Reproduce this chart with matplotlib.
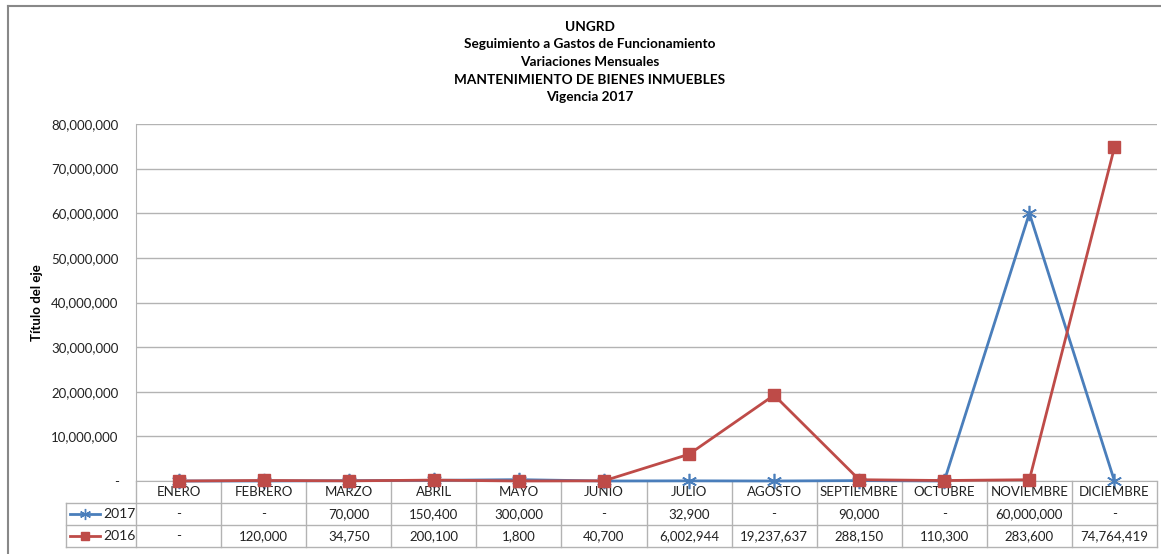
import matplotlib
matplotlib.use('Agg')
import matplotlib.pyplot as plt
from matplotlib.lines import Line2D
from matplotlib.ticker import FuncFormatter

plt.rcParams.update({'font.family': ['Lato', 'DejaVu Sans'], 'font.size': 9.5})

MESES = ['ENERO', 'FEBRERO', 'MARZO', 'ABRIL', 'MAYO', 'JUNIO', 'JULIO',
         'AGOSTO', 'SEPTIEMBRE', 'OCTUBRE', 'NOVIEMBRE', 'DICIEMBRE']
v2017 = [0, 0, 70000, 150400, 300000, 0, 32900, 0, 90000, 0, 60000000, 0]
v2016 = [0, 120000, 34750, 200100, 1800, 40700, 6002944, 19237637,
         288150, 110300, 283600, 74764419]
TITULO = ['UNGRD', 'Seguimiento a Gastos de Funcionamiento', 'Variaciones Mensuales',
          'MANTENIMIENTO DE BIENES INMUEBLES', 'Vigencia 2017']

AZUL = '#4A7EBB'
ROJO = '#BE4B48'
GRIS = '#B3B3B3'

W, H = 1161, 554
fig = plt.figure(figsize=(W / 100, H / 100), dpi=100)

# plot area in pixels: x 136..1157, y 124..481
x0, x1, ytop, ybot = 136, 1157, 124, 481
ax = fig.add_axes([x0 / W, 1 - ybot / H, (x1 - x0) / W, (ybot - ytop) / H])

def fmt(v, pos=None):
    return '-' if v == 0 else f'{v:,.0f}'

x = range(len(MESES))
ax.plot(x, v2017, color=AZUL, lw=2.0, marker=(6, 2, 0), ms=11, mew=1.2,
        mec=AZUL, zorder=3, clip_on=False)
ax.plot(x, v2016, color=ROJO, lw=2.0, marker='s', ms=8, mec=ROJO, mfc=ROJO,
        zorder=4, clip_on=False)

ax.set_xlim(-0.5, len(MESES) - 0.5)
ax.set_ylim(0, 80000000)
ax.set_yticks(range(0, 80000001, 10000000))
ax.yaxis.set_major_formatter(FuncFormatter(fmt))
ax.yaxis.grid(True, color=GRIS, lw=1.0)
ax.set_axisbelow(True)
ax.tick_params(axis='y', length=0, pad=12.5, labelsize=9.5, colors='#222222')
ax.set_xticks([])
for s in ['top', 'right']:
    ax.spines[s].set_visible(False)
ax.spines['left'].set_color(GRIS)
ax.spines['bottom'].set_color(GRIS)
ax.set_ylabel('Título del eje', fontweight='bold', fontsize=9.5, labelpad=6)

# data table under the plot area
tr = ax.get_xaxis_transform()
def py(p):
    # pixel row -> axes fraction
    return (ybot - p) / (ybot - ytop)

rows = [503, 525, 547]
unit = (x1 - x0) / 12
leg_left = -0.5 - (x0 - 66) / unit
for r in rows:
    ax.add_line(Line2D([leg_left, 11.5], [py(r)] * 2, transform=tr, color=GRIS,
                       lw=1.0, clip_on=False))
ax.add_line(Line2D([leg_left] * 2, [py(503), py(547)], transform=tr, color=GRIS,
                   lw=1.0, clip_on=False))
for i in range(len(MESES) + 1):
    ax.add_line(Line2D([i - 0.5] * 2, [py(481), py(547)], transform=tr, color=GRIS,
                       lw=1.0, clip_on=False))

for i, m in enumerate(MESES):
    ax.text(i, py(492), m, transform=tr, ha='center', va='center', color='#222222')
    ax.text(i, py(514), fmt(v2017[i]), transform=tr, ha='center', va='center',
            color='#222222')
    ax.text(i, py(536), fmt(v2016[i]), transform=tr, ha='center', va='center',
            color='#222222')

# legend keys inside the table
for r, col, mk, ms, lab in [(514, AZUL, (6, 2, 0), 8, '2017'), (536, ROJO, 's', 6, '2016')]:
    kx0 = -0.5 - (x0 - 70) / unit
    kx1 = -0.5 - (x0 - 100) / unit
    ax.add_line(Line2D([kx0, kx1], [py(r)] * 2, transform=tr, color=col, lw=2.0,
                       clip_on=False))
    ax.add_line(Line2D([(kx0 + kx1) / 2], [py(r)], transform=tr, color=col,
                       marker=mk, ms=ms, mec=col, mfc=col, clip_on=False))
    ax.text(-0.5 - (x0 - 103) / unit, py(r), lab, transform=tr, ha='left',
            va='center', fontsize=10, color='#222222')

# title block
for k, t in enumerate(TITULO):
    fig.text(590 / W, 1 - (27 + 17.5 * k) / H, t, ha='center', va='center',
             fontweight='bold', fontsize=9.8)

# outer chart frame (top and left edges)
fig.add_artist(Line2D([8 / W, 1], [1 - 5.5 / H] * 2, color='#888888', lw=1.5))
fig.add_artist(Line2D([8 / W] * 2, [0, 1 - 5.5 / H], color='#888888', lw=1.5))

fig.savefig('out.png', dpi=100, facecolor='white')
